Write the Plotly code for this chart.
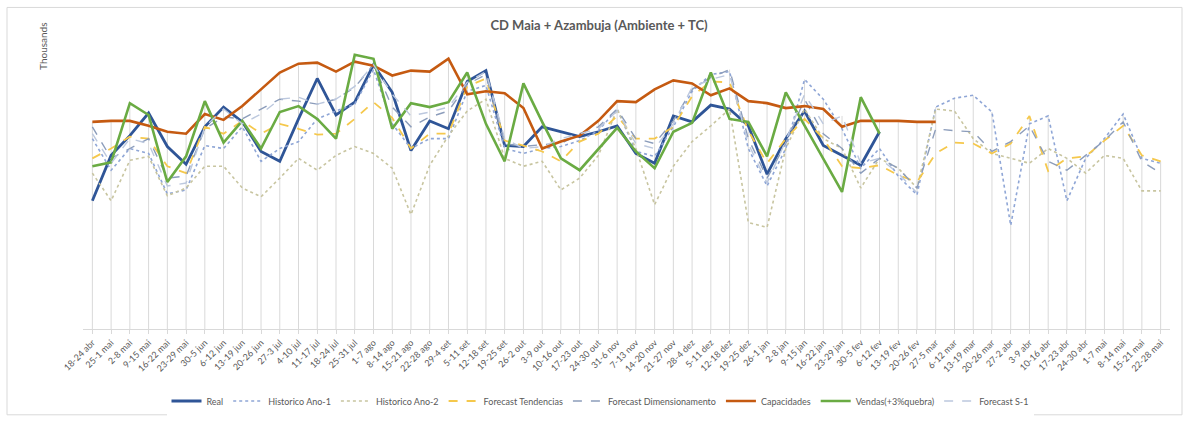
import plotly.graph_objects as go

categories = ["18-24 abr", "25-1 mai", "2-8 mai", "9-15 mai", "16-22 mai", "23-29 mai", "30-5 jun",
              "6-12 jun", "13-19 jun", "20-26 jun", "27-3 jul", "4-10 jul", "11-17 jul", "18-24 jul",
              "25-31 jul", "1-7 ago", "8-14 ago", "15-21 ago", "22-28 ago", "29-4 set", "5-11 set",
              "12-18 set", "19-25 set", "26-2 out", "3-9 out", "10-16 out", "17-23 out", "24-30 out",
              "31-6 nov", "7-13 nov", "14-20 nov", "21-27 nov", "28-4 dez", "5-11 dez", "12-18 dez",
              "19-25 dez", "26-1 jan", "2-8 jan", "9-15 jan", "16-22 jan", "23-29 jan", "30-5 fev",
              "6-12 fev", "13-19 fev", "20-26 fev", "27-5 mar", "6-12 mar", "13-19 mar", "20-26 mar",
              "27-2 abr", "3-9 abr", "10-16 abr", "17-23 abr", "24-30 abr", "1-7 mai", "8-14 mai",
              "15-21 mai", "22-28 mai"]

real = [130, 176, 196, 219, 185, 167, 205, 225, 210, 180, 170, 213, 254, 217, 230, 268, 240, 181, 211, 203,
        251, 262, 186, 185, 205, 200, 195, 200, 206, 178, 168, 216, 210, 227, 223, 206, 157, 193, 221, 186,
        176, 166, 200]

historico_ano1 = [193, 161, 183, 178, 137, 141, 186, 183, 205, 170, 183, 190, 213, 221, 228, 263, 208, 183,
                  193, 193, 241, 247, 183, 178, 183, 185, 191, 201, 223, 180, 175, 205, 241, 258, 261, 183,
                  145, 183, 253, 233, 203, 163, 183, 155, 136, 225, 234, 237, 220, 105, 208, 216, 130, 173,
                  193, 218, 173, 168]

historico_ano2 = [158, 130, 171, 175, 135, 143, 165, 165, 143, 134, 153, 173, 161, 176, 185, 178, 163, 116,
                  166, 196, 221, 233, 173, 165, 170, 141, 153, 176, 223, 183, 126, 165, 190, 206, 223, 108,
                  103, 183, 223, 193, 183, 143, 173, 163, 143, 223, 221, 193, 178, 173, 168, 183, 173, 158,
                  176, 173, 140, 140]

forecast_tendencias = [173, 183, 195, 193, 165, 158, 205, 198, 211, 198, 208, 203, 197, 198, 213, 230, 214,
                       183, 198, 198, 246, 254, 191, 186, 180, 170, 190, 198, 216, 193, 193, 205, 236, 251,
                       250, 201, 168, 193, 213, 193, 165, 163, 166, 156, 149, 178, 189, 188, 178, 188, 216,
                       160, 173, 175, 191, 206, 176, 170]

forecast_dimensionamento = [205, 173, 183, 193, 153, 155, 203, 215, 213, 223, 233, 231, 228, 233, 245, 268,
                            225, 205, 215, 221, 248, 258, 188, 185, 187, 188, 198, 205, 223, 193, 188, 211,
                            243, 255, 263, 193, 153, 188, 233, 198, 183, 158, 173, 163, 143, 203, 201, 200,
                            180, 190, 206, 170, 161, 176, 191, 210, 170, 158]

capacidades = [210, 211, 211, 206, 200, 198, 218, 212, 226, 243, 260, 269, 270, 261, 271, 267, 257, 262, 261,
               274, 238, 241, 239, 224, 183, 190, 196, 211, 231, 230, 243, 252, 249, 237, 244, 231, 229, 224,
               226, 223, 205, 211, 211, 211, 210, 210]

vendas = [165, 169, 229, 217, 149, 175, 231, 189, 211, 183, 220, 226, 213, 193, 278, 274, 203, 229, 225, 230,
          260, 208, 170, 249, 210, 173, 161, 182, 204, 180, 163, 200, 209, 260, 213, 210, 175, 240, 206, 173,
          139, 235, 198]

forecast_s1 = [198, 168, 193, 188, 145, 148, 205, 223, 208, 218, 233, 235, 228, 233, 246, 268, 238, 216, 220,
               225, 250, 261, 193, 183, 185, 193, 198, 203, 221, 188, 183, 208, 245, 253, 258, 188, 148, 191,
               238, 208, 216, 168, 173, 158, 138]

series = [
    ("Real", real, "#2F5597", 2.8, "solid"),
    ("Historico Ano-1", historico_ano1, "#8FA6D6", 1.6, "dot"),
    ("Historico Ano-2", historico_ano2, "#C8C5A0", 1.6, "dot"),
    ("Forecast Tendencias", forecast_tendencias, "#F5C84C", 1.8, "dash"),
    ("Forecast Dimensionamento", forecast_dimensionamento, "#8C9DBB", 1.4, "dash"),
    ("Capacidades", capacidades, "#C55A11", 2.6, "solid"),
    ("Vendas(+3%quebra)", vendas, "#6AAB43", 2.6, "solid"),
    ("Forecast S-1", forecast_s1, "#BCC8DE", 1.4, "dash"),
]

# drop lines from the highest series value at each category down to zero
drop_x, drop_y = [], []
for i, c in enumerate(categories):
    vals = [s[1][i] for s in series if i < len(s[1]) and s[1][i] is not None]
    top = max(vals) if vals else 0
    drop_x += [c, c, None]
    drop_y += [0, top, None]

fig = go.Figure()
fig.add_trace(go.Scatter(x=drop_x, y=drop_y, mode="lines", line=dict(color="#D9D9D9", width=1),
                         showlegend=False, hoverinfo="skip"))
for name, vals, color, width, dash in series:
    fig.add_trace(go.Scatter(x=categories[:len(vals)], y=vals, mode="lines", name=name,
                             line=dict(color=color, width=width, dash=dash)))

W, H = 1187, 427
L, R, T, B = 83, 17, 40, 94
pw, ph = W - L - R, H - T - B

def px_x(p):
    return (p - L) / pw

def px_y(p):
    return (H - B - p) / ph

fig.update_layout(
    width=W, height=H,
    margin=dict(l=L, r=R, t=T, b=B),
    paper_bgcolor="white", plot_bgcolor="white",
    font=dict(family="Lato, Liberation Sans, sans-serif", color="#595959", size=9),
    title=dict(text="<b>CD Maia + Azambuja (Ambiente + TC)</b>", x=px_x(599), xref="paper",
               xanchor="center", y=1 - 25 / H, yref="container", yanchor="middle",
               font=dict(size=13, color="#595959")),
    xaxis=dict(type="category", categoryorder="array", categoryarray=categories,
               range=[-0.5, len(categories) - 0.5], showgrid=False, showline=True,
               linecolor="#D9D9D9", linewidth=1, ticks="outside", ticklen=4, tickcolor="#D9D9D9",
               tickangle=-45, tickfont=dict(size=9, color="#595959"), zeroline=False),
    yaxis=dict(range=[0, ph], showgrid=False, showticklabels=False, zeroline=False, showline=False),
    legend=dict(orientation="h", x=px_x(600), xanchor="center", y=px_y(406), yanchor="middle",
                font=dict(size=9, color="#595959"), itemwidth=30, traceorder="normal"),
    showlegend=True,
)

fig.add_annotation(text="Thousands", xref="paper", yref="paper", x=px_x(43), y=px_y(47),
                   textangle=-90, showarrow=False, font=dict(size=10, color="#595959"),
                   xanchor="center", yanchor="middle")

fig.add_shape(type="rect", xref="paper", yref="paper", x0=px_x(7), x1=px_x(1182), y0=px_y(420),
              y1=px_y(7), line=dict(color="#D9D9D9", width=1), layer="below")

fig.write_html("out.html")
